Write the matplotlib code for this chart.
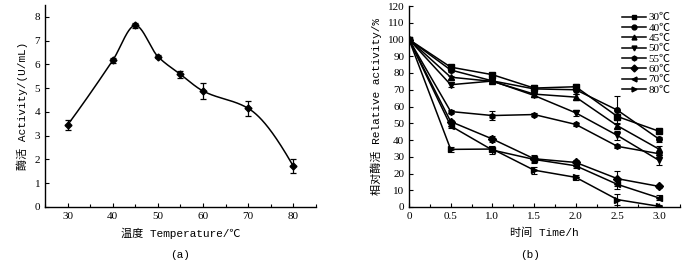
import numpy as np
import matplotlib
matplotlib.use("Agg")
import matplotlib.pyplot as plt
from matplotlib.lines import Line2D
from matplotlib.ticker import FixedLocator, FixedFormatter, MultipleLocator

# ---------------- data ----------------
temps = [30, 40, 45, 50, 55, 60, 70, 80]
activity = [3.45, 6.17, 7.64, 6.33, 5.58, 4.88, 4.15, 1.71]
activity_err = [0.22, 0.12, 0.10, 0.06, 0.15, 0.32, 0.30, 0.30]

times = [0, 0.5, 1.0, 1.5, 2.0, 2.5, 3.0]
series_labels = ["30℃", "40℃", "45℃", "50℃", "55℃", "60℃", "70℃", "80℃"]
rel_30 = [100, 83.5, 79.0, 71.0, 71.8, 54.0, 45.2]
rel_40 = [100, 81.8, 75.3, 70.5, 70.0, 57.8, 40.5]
rel_45 = [100, 77.5, 75.0, 67.4, 65.6, 48.5, 34.5]
rel_50 = [100, 73.0, 75.2, 66.6, 56.2, 42.7, 27.8]
rel_55 = [100, 57.0, 54.6, 55.2, 49.3, 36.2, 31.8]
rel_60 = [100, 51.0, 40.6, 28.8, 26.6, 16.9, 12.3]
rel_70 = [100, 48.4, 34.0, 28.4, 24.6, 13.5, 5.4]
rel_80 = [100, 34.4, 34.6, 22.0, 17.7, 4.4, 0.4]
err_30 = [0, 1.5, 1.0, 1.5, 1.5, 1.5, 1.0]
err_40 = [0, 1.5, 1.0, 2.5, 2.5, 8.5, 1.5]
err_45 = [0, 1.0, 1.0, 1.5, 2.0, 1.5, 2.0]
err_50 = [0, 1.5, 1.0, 1.0, 2.0, 2.5, 3.0]
err_55 = [0, 1.0, 2.5, 1.0, 1.0, 1.0, 1.0]
err_60 = [0, 1.0, 1.5, 2.0, 1.5, 4.5, 1.0]
err_70 = [0, 1.0, 2.5, 2.0, 1.5, 3.0, 1.5]
err_80 = [0, 1.5, 1.5, 2.0, 1.5, 3.5, 1.0]
rel_series = [rel_30, rel_40, rel_45, rel_50, rel_55, rel_60, rel_70, rel_80]
err_series = [err_30, err_40, err_45, err_50, err_55, err_60, err_70, err_80]
markers = ["s", "o", "^", "v", "h", "D", "<", ">"]

# ---------------- helpers ----------------
def pchip(x, y, n=400):
    x = np.asarray(x, float); y = np.asarray(y, float)
    h = np.diff(x); d = np.diff(y) / h
    m = np.zeros_like(y)
    for k in range(1, len(x) - 1):
        if d[k - 1] * d[k] > 0:
            w1 = 2 * h[k] + h[k - 1]; w2 = h[k] + 2 * h[k - 1]
            m[k] = (w1 + w2) / (w1 / d[k - 1] + w2 / d[k])
    def end(h0, h1, d0, d1):
        s = ((2 * h0 + h1) * d0 - h0 * d1) / (h0 + h1)
        if np.sign(s) != np.sign(d0):
            s = 0
        elif np.sign(d0) != np.sign(d1) and abs(s) > abs(3 * d0):
            s = 3 * d0
        return s
    m[0] = end(h[0], h[1], d[0], d[1])
    m[-1] = end(h[-1], h[-2], d[-1], d[-2])
    xs = np.linspace(x[0], x[-1], n)
    i = np.clip(np.searchsorted(x, xs) - 1, 0, len(x) - 2)
    t = (xs - x[i]) / h[i]
    h00 = 2 * t**3 - 3 * t**2 + 1; h10 = t**3 - 2 * t**2 + t
    h01 = -2 * t**3 + 3 * t**2; h11 = t**3 - t**2
    ys = h00 * y[i] + h10 * h[i] * m[i] + h01 * y[i + 1] + h11 * h[i] * m[i + 1]
    return xs, ys

num_font = ["Liberation Serif", "Noto Sans CJK SC"]
lab_font = ["Liberation Mono", "Noto Sans CJK SC"]
FS = 8

fig = plt.figure(figsize=(7.0, 2.62), dpi=100)
W, H = 700, 262
def add_ax(x0, x1, ytop, ybot):
    return fig.add_axes([x0 / W, 1 - ybot / H, (x1 - x0) / W, (ybot - ytop) / H])

def style(ax):
    for s in ["top", "right"]:
        ax.spines[s].set_visible(False)
    for s in ["left", "bottom"]:
        ax.spines[s].set_linewidth(1.0)
    ax.tick_params(which="both", direction="in", width=0.8, labelsize=FS)
    ax.tick_params(which="major", length=3)
    ax.tick_params(which="minor", length=2)
    for t in ax.get_xticklabels() + ax.get_yticklabels():
        t.set_fontfamily(num_font)

# ---------------- (a) ----------------
ax1 = add_ax(45, 316, 5, 207)
xs, ys = pchip(temps, activity)
ax1.plot(xs, ys, color="black", lw=1.1)
ax1.errorbar(temps, activity, yerr=activity_err, fmt="D", color="black", ms=3.5,
             capsize=2, elinewidth=0.9, capthick=0.9)
ax1.set_xlim(25, 85)
ax1.set_ylim(0, 8.5)
ax1.xaxis.set_major_locator(FixedLocator([30, 40, 50, 60, 70, 80]))
ax1.xaxis.set_minor_locator(MultipleLocator(5))
ax1.yaxis.set_major_locator(FixedLocator(list(range(0, 9))))
style(ax1)
ax1.set_xlabel("温度 Temperature/℃", fontsize=FS, fontfamily=lab_font, labelpad=5)
ax1.set_ylabel("酶活 Activity/(U/mL)", fontsize=FS, fontfamily=lab_font, labelpad=5)
fig.text(180 / W, 1 - 255 / H, "(a)", ha="center", va="center", fontsize=FS,
         fontfamily=lab_font)

# ---------------- (b) ----------------
ax2 = add_ax(409, 680, 6, 207)
handles = []
for lab, vals, errs, mk in zip(series_labels, rel_series, err_series, markers):
    ax2.errorbar(times, vals, yerr=errs, fmt="-", marker=mk, color="black", ms=4,
                 lw=1.1, capsize=2, elinewidth=0.8, capthick=0.8)
    handles.append(Line2D([], [], color="black", lw=1.1, marker=mk, ms=3.5, label=lab))
ax2.set_xlim(0, 3.25)
ax2.set_ylim(0, 120)
ax2.xaxis.set_major_locator(FixedLocator(times))
ax2.xaxis.set_major_formatter(FixedFormatter(["0", "0.5", "1.0", "1.5", "2.0", "2.5", "3.0"]))
ax2.xaxis.set_minor_locator(MultipleLocator(0.25))
ax2.yaxis.set_major_locator(MultipleLocator(10))
style(ax2)
ax2.set_xlabel("时间 Time/h", fontsize=FS, fontfamily=lab_font, labelpad=5)
ax2.set_ylabel("相对酶活 Relative activity/%", fontsize=FS, fontfamily=lab_font, labelpad=4)
ax2.legend(handles=handles, loc="upper right", bbox_to_anchor=(0.99, 1.0), frameon=False,
           prop={"family": num_font, "size": 8}, handlelength=2.2,
           handletextpad=0.2, labelspacing=0.05, borderaxespad=0.2)
fig.text(530 / W, 1 - 255 / H, "(b)", ha="center", va="center", fontsize=FS,
         fontfamily=lab_font)

fig.savefig("out.png", dpi=100)
